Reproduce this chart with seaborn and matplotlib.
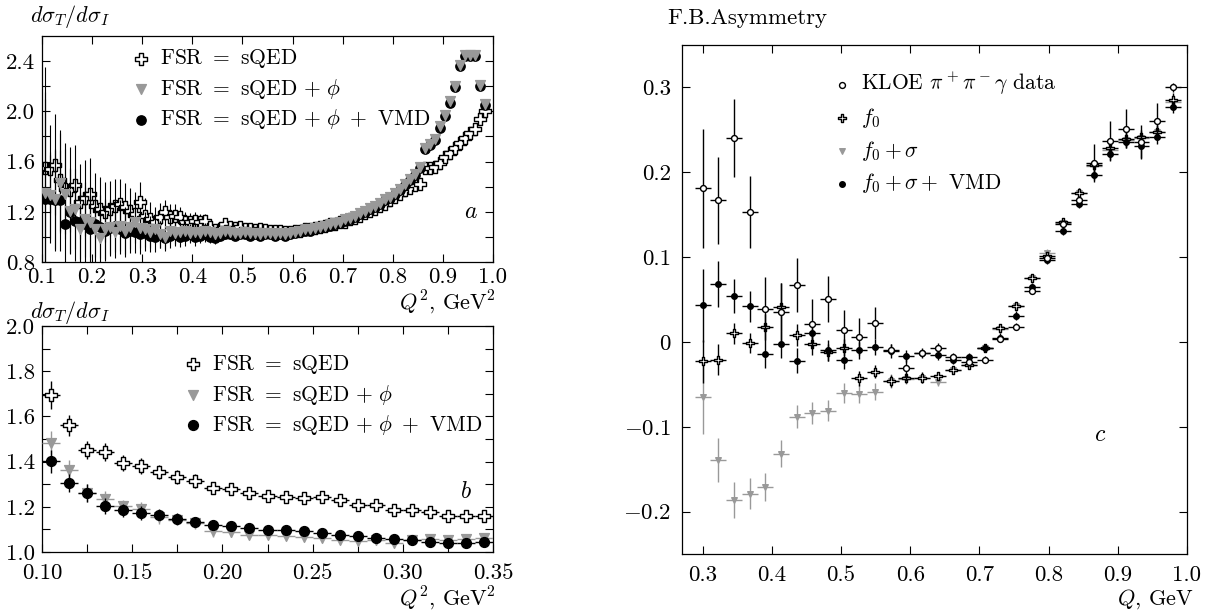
import numpy as np
import pandas as pd
import matplotlib
matplotlib.use("Agg")
import matplotlib.pyplot as plt
import seaborn as sns
from matplotlib.path import Path
from matplotlib.ticker import FixedLocator, FixedFormatter

# ---------------- panel a : dsigma_T/dsigma_I vs Q^2 (full range) ----------------
q2_a = [0.105, 0.115, 0.125, 0.135, 0.145, 0.155, 0.165, 0.175, 0.185, 0.195,
        0.205, 0.215, 0.225, 0.235, 0.245, 0.255, 0.265, 0.275, 0.285, 0.295,
        0.305, 0.315, 0.325, 0.335, 0.345, 0.355, 0.365, 0.375, 0.385, 0.395,
        0.405, 0.415, 0.425, 0.435, 0.445, 0.455, 0.465, 0.475, 0.485, 0.495,
        0.505, 0.515, 0.525, 0.535, 0.545, 0.555, 0.565, 0.575, 0.585, 0.595,
        0.605, 0.615, 0.625, 0.635, 0.645, 0.655, 0.665, 0.675, 0.685, 0.695,
        0.705, 0.715, 0.725, 0.735, 0.745, 0.755, 0.765, 0.775, 0.785, 0.795,
        0.805, 0.815, 0.825, 0.835, 0.845, 0.855, 0.865, 0.875, 0.885, 0.895,
        0.905, 0.915, 0.925, 0.935, 0.945, 0.955, 0.965, 0.975, 0.985]

a_sqed = [1.55, 1.54, 1.575, 1.45, 1.385, 1.375, 1.415, 1.28, 1.31, 1.345,
          1.25, 1.225, 1.20, 1.225, 1.25, 1.265, 1.24, 1.21, 1.185, 1.28,
          1.17, 1.145, 1.12, 1.16, 1.195, 1.16, 1.17, 1.155, 1.12, 1.12,
          1.13, 1.12, 1.125, 1.08, 1.055, 1.065, 1.10, 1.08, 1.07, 1.075,
          1.06, 1.065, 1.055, 1.06, 1.055, 1.05, 1.05, 1.045, 1.04, 1.04,
          1.045, 1.05, 1.06, 1.065, 1.07, 1.08, 1.09, 1.10, 1.105, 1.115,
          1.12, 1.14, 1.15, 1.165, 1.19, 1.21, 1.22, 1.245, 1.265, 1.29,
          1.315, 1.34, 1.37, 1.39, 1.415, 1.425, 1.545, 1.55, 1.56, 1.585,
          1.635, 1.67, 1.71, 1.75, 1.79, 1.83, 1.86, 1.94, 2.00]

a_phi = [1.35, 1.33, 1.30, 1.43, 1.34, 1.21, 1.22, 1.06, 1.14, 1.12,
         1.06, 0.99, 1.06, 1.08, 1.04, 1.09, 1.05, 1.08, 1.12, 1.07,
         1.06, 1.04, 1.06, 1.02, 1.00, 1.05, 1.03, 1.04, 1.05, 1.03,
         1.04, 1.03, 1.05, 1.04, 1.02, 1.03, 1.05, 1.04, 1.03, 1.03,
         1.04, 1.03, 1.03, 1.02, 1.03, 1.03, 1.02, 1.03, 1.02, 1.03,
         1.04, 1.05, 1.06, 1.06, 1.07, 1.08, 1.09, 1.10, 1.11, 1.12,
         1.14, 1.15, 1.17, 1.19, 1.21, 1.23, 1.25, 1.27, 1.30, 1.32,
         1.35, 1.38, 1.42, 1.46, 1.50, 1.56, 1.71, 1.74, 1.78, 1.88,
         1.97, 2.08, 2.20, 2.37, 2.45, 2.45, 2.45, 2.21, 2.06]

a_vmd = [1.30, 1.30, 1.29, 1.29, 1.10, 1.20, 1.13, 1.12, 1.10, 1.06,
         1.10, 1.08, 1.05, 1.07, 1.09, 1.06, 1.03, 1.05, 1.04, 1.02,
         1.03, 1.01, 1.00, 1.02, 0.99, 1.01, 1.02, 1.00, 1.01, 1.02,
         1.00, 1.01, 1.02, 1.00, 0.99, 1.01, 1.02, 1.02, 1.01, 1.02,
         1.02, 1.01, 1.02, 1.01, 1.02, 1.02, 1.01, 1.02, 1.01, 1.02,
         1.03, 1.04, 1.05, 1.05, 1.06, 1.07, 1.08, 1.09, 1.10, 1.11,
         1.13, 1.14, 1.16, 1.18, 1.20, 1.22, 1.24, 1.26, 1.29, 1.31,
         1.34, 1.37, 1.41, 1.45, 1.49, 1.55, 1.70, 1.73, 1.77, 1.87,
         1.96, 2.07, 2.19, 2.36, 2.44, 2.44, 2.44, 2.20, 2.05]

err_a = [0.80, 0.35, 0.40, 0.40, 0.36, 0.34, 0.32, 0.30, 0.30, 0.28,
         0.26, 0.25, 0.24, 0.22, 0.21, 0.20, 0.19, 0.18, 0.17, 0.16,
         0.14, 0.13, 0.12, 0.11, 0.10, 0.10, 0.09, 0.08, 0.08, 0.07,
         0.07, 0.06, 0.06, 0.05, 0.05, 0.04, 0.04, 0.04, 0.03, 0.03,
         0.03, 0.03, 0.025, 0.025, 0.025, 0.02, 0.02, 0.02, 0.02, 0.02,
         0.02, 0.02, 0.02, 0.02, 0.02, 0.02, 0.02, 0.02, 0.02, 0.02,
         0.02, 0.02, 0.02, 0.02, 0.02, 0.02, 0.02, 0.02, 0.02, 0.02,
         0.02, 0.02, 0.02, 0.02, 0.02, 0.02, 0.02, 0.02, 0.02, 0.02,
         0.02, 0.02, 0.02, 0.025, 0.025, 0.025, 0.025, 0.025, 0.025]

# ---------------- panel b : zoom on low Q^2 ----------------
q2_b = [0.105, 0.115, 0.125, 0.135, 0.145, 0.155, 0.165, 0.175, 0.185, 0.195,
        0.205, 0.215, 0.225, 0.235, 0.245, 0.255, 0.265, 0.275, 0.285, 0.295,
        0.305, 0.315, 0.325, 0.335, 0.345]

b_sqed = [1.695, 1.560, 1.452, 1.442, 1.393, 1.381, 1.353, 1.331, 1.315, 1.283,
          1.280, 1.261, 1.247, 1.243, 1.239, 1.242, 1.231, 1.206, 1.206, 1.187,
          1.184, 1.177, 1.161, 1.161, 1.158]
b_phi = [1.482, 1.364, 1.261, 1.236, 1.202, 1.190, 1.155, 1.143, 1.128, 1.091,
         1.088, 1.077, 1.077, 1.072, 1.066, 1.062, 1.054, 1.047, 1.054, 1.040,
         1.054, 1.057, 1.054, 1.057, 1.062]
b_vmd = [1.401, 1.305, 1.261, 1.205, 1.184, 1.172, 1.165, 1.147, 1.131, 1.121,
         1.116, 1.105, 1.099, 1.099, 1.091, 1.084, 1.077, 1.069, 1.060, 1.057,
         1.051, 1.043, 1.040, 1.040, 1.043]

err_b_sqed = [0.062, 0.045, 0.040, 0.040, 0.035, 0.035, 0.030, 0.030, 0.030, 0.025,
              0.025, 0.020, 0.020, 0.020, 0.020, 0.020, 0.020, 0.015, 0.015, 0.015,
              0.015, 0.015, 0.012, 0.012, 0.012]
err_b_phi = [0.055, 0.045, 0.040, 0.035, 0.030, 0.030, 0.030, 0.025, 0.025, 0.025,
             0.020, 0.020, 0.020, 0.020, 0.018, 0.018, 0.018, 0.015, 0.015, 0.015,
             0.015, 0.012, 0.012, 0.012, 0.012]
err_b_vmd = [0.050, 0.040, 0.040, 0.035, 0.030, 0.030, 0.025, 0.025, 0.020, 0.020,
             0.020, 0.018, 0.018, 0.015, 0.015, 0.015, 0.015, 0.012, 0.012, 0.012,
             0.012, 0.010, 0.010, 0.010, 0.010]

# ---------------- panel c : forward-backward asymmetry vs Q ----------------
q_c = [0.300, 0.322, 0.345, 0.368, 0.390, 0.413, 0.436, 0.458, 0.481, 0.504,
       0.526, 0.549, 0.572, 0.594, 0.617, 0.640, 0.662, 0.685, 0.708, 0.730,
       0.753, 0.776, 0.798, 0.821, 0.844, 0.866, 0.889, 0.912, 0.934, 0.957,
       0.980]

c_kloe = [0.181, 0.167, 0.240, 0.153, 0.039, 0.035, 0.067, 0.021, 0.051, 0.014,
          0.006, 0.022, -0.009, -0.031, -0.013, -0.007, -0.018, -0.024, -0.021, 0.004,
          0.018, 0.060, 0.099, 0.139, 0.167, 0.211, 0.237, 0.251, 0.236, 0.261,
          0.300]
c_f0 = [-0.023, -0.021, 0.010, -0.001, 0.018, 0.041, 0.008, -0.003, -0.012, -0.007,
        -0.043, -0.035, -0.046, -0.043, -0.042, -0.040, -0.033, -0.027, -0.007, 0.016,
        0.042, 0.075, 0.101, 0.141, 0.176, 0.208, 0.228, 0.239, 0.242, 0.248,
        0.285]
c_f0s = [-0.065, -0.139, -0.186, -0.179, -0.171, -0.132, -0.088, -0.084, -0.081, -0.060,
         -0.061, -0.059, -0.046, -0.044, -0.043, -0.047, -0.033, -0.027, -0.007, 0.015,
         0.042, 0.075, 0.105, 0.140, 0.176, 0.207, 0.226, 0.238, 0.240, 0.248,
         0.283]
c_vmd = [0.043, 0.068, 0.054, 0.042, -0.014, -0.003, -0.022, 0.010, -0.010, -0.021,
         -0.010, -0.006, -0.011, -0.017, -0.013, -0.015, -0.021, -0.018, -0.007, 0.005,
         0.031, 0.065, 0.097, 0.131, 0.163, 0.197, 0.221, 0.236, 0.231, 0.241,
         0.277]

err_c_kloe = [0.070, 0.051, 0.046, 0.042, 0.037, 0.034, 0.032, 0.029, 0.027, 0.024,
              0.022, 0.019, 0.006, 0.015, 0.005, 0.006, 0.005, 0.004, 0.004, 0.004,
              0.004, 0.004, 0.004, 0.005, 0.005, 0.022, 0.023, 0.023, 0.020, 0.021,
              0.005]
err_c_f0 = [0.025, 0.018, 0.012, 0.012, 0.015, 0.028, 0.013, 0.012, 0.010, 0.010,
            0.009, 0.008, 0.007, 0.006, 0.006, 0.005, 0.005, 0.005, 0.004, 0.004,
            0.004, 0.004, 0.004, 0.005, 0.005, 0.006, 0.008, 0.008, 0.008, 0.008,
            0.008]
err_c_f0s = [0.043, 0.026, 0.021, 0.018, 0.016, 0.016, 0.014, 0.013, 0.012, 0.012,
             0.011, 0.010, 0.008, 0.006, 0.005, 0.005, 0.005, 0.004, 0.004, 0.004,
             0.004, 0.004, 0.004, 0.005, 0.005, 0.006, 0.008, 0.008, 0.008, 0.008,
             0.008]
err_c_vmd = [0.043, 0.027, 0.020, 0.018, 0.017, 0.016, 0.015, 0.013, 0.012, 0.011,
             0.010, 0.009, 0.008, 0.007, 0.006, 0.006, 0.005, 0.005, 0.005, 0.005,
             0.005, 0.005, 0.005, 0.005, 0.005, 0.006, 0.008, 0.008, 0.014, 0.008,
             0.007]

half_bin_b = 0.005
half_bin_c = 0.0113

# --------------------------------------------------------------------------
sns.set_theme(style="ticks", rc={"axes.edgecolor": "black", "xtick.color": "black",
                                 "ytick.color": "black", "text.color": "black"})
plt.rcParams.update({
    "font.family": "serif",
    "font.serif": ["cmr10", "DejaVu Serif"],
    "mathtext.fontset": "cm",
    "axes.formatter.use_mathtext": True,
})

# open greek cross used for the sQED / f0 points
a_ = 0.17
cross = Path([(-a_, 0.5), (a_, 0.5), (a_, a_), (0.5, a_), (0.5, -a_), (a_, -a_),
              (a_, -0.5), (-a_, -0.5), (-a_, -a_), (-0.5, -a_), (-0.5, a_),
              (-a_, a_), (-a_, 0.5)], closed=True)

GRAY = "#999999"
TICK_FS = 16.5
LEG_FS = 15.5
LAB_FS = 16


def draw(ax, x, y, yerr, xerr, marker, face, edge, size, ecolor, label, z, lw=1.0):
    ax.errorbar(x, y, yerr=yerr, xerr=xerr, fmt="none", ecolor=ecolor,
                elinewidth=lw, capsize=0, zorder=z)
    df = pd.DataFrame({"x": x, "y": y})
    sns.scatterplot(data=df, x="x", y="y", marker=marker, s=size, color=face,
                    edgecolor=edge, linewidth=1.0, ax=ax, label=label, zorder=z + 0.5)


def style(ax, xlim, ylim, xt, xl, yt, yl, xpad=8):
    ax.set_xlim(*xlim)
    ax.set_ylim(*ylim)
    ax.xaxis.set_major_locator(FixedLocator(xt))
    ax.xaxis.set_major_formatter(FixedFormatter(xl))
    ax.yaxis.set_major_locator(FixedLocator(yt))
    ax.yaxis.set_major_formatter(FixedFormatter(yl))
    ax.tick_params(direction="in", top=True, right=True, length=6, width=0.8,
                   labelsize=TICK_FS)
    ax.tick_params(axis="x", pad=xpad)
    ax.tick_params(axis="y", pad=5)
    ax.set_xlabel("")
    ax.set_ylabel("")
    for s in ax.spines.values():
        s.set_linewidth(0.9)
        s.set_visible(True)


def legend(ax, order, anchor, spacing):
    h, l = ax.get_legend_handles_labels()
    d = dict(zip(l, h))
    ax.legend([d[k] for k in order], order, loc="upper left", bbox_to_anchor=anchor,
              frameon=False, fontsize=LEG_FS, handlelength=0.8, handletextpad=0.5,
              labelspacing=spacing, borderpad=0, borderaxespad=0)


W, H = 1215, 612
fig = plt.figure(figsize=(W / 100, H / 100), dpi=100)
ax_a = fig.add_axes([42 / W, 1 - 262 / H, 451 / W, 226 / H])
ax_b = fig.add_axes([42 / W, 1 - 552 / H, 451 / W, 226 / H])
ax_c = fig.add_axes([682 / W, 1 - 554 / H, 505 / W, 509 / H])

lab_sqed = r"FSR $=$ sQED"
lab_phi = r"FSR $=$ sQED $+\ \phi$"
lab_vmd = r"FSR $=$ sQED $+\ \phi\ +$ VMD"

# panel a
draw(ax_a, q2_a, a_sqed, err_a, None, cross, "white", "black", 70, "black", lab_sqed, 2, 0.8)
draw(ax_a, q2_a, a_vmd, err_a, None, "o", "black", "black", 45, "black", lab_vmd, 3, 0.8)
draw(ax_a, q2_a, a_phi, err_a, None, "v", GRAY, GRAY, 50, "black", lab_phi, 4, 0.8)
style(ax_a, (0.1, 1.0), (0.8, 2.6),
      [0.1, 0.2, 0.3, 0.4, 0.5, 0.6, 0.7, 0.8, 0.9, 1.0],
      ["0.1", "0.2", "0.3", "0.4", "0.5", "0.6", "0.7", "0.8", "0.9", "1.0"],
      [0.8, 1.0, 1.2, 1.4, 1.6, 1.8, 2.0, 2.2, 2.4],
      ["0.8", "", "1.2", "", "1.6", "", "2.0", "", "2.4"], xpad=4)
legend(ax_a, [lab_sqed, lab_phi, lab_vmd], (0.2, 0.95), 0.3)
ax_a.text(0.955, 1.2, r"$a$", fontsize=17, ha="center", va="center")

# panel b
draw(ax_b, q2_b, b_sqed, err_b_sqed, half_bin_b, cross, "white", "black", 70, "black", lab_sqed, 2)
draw(ax_b, q2_b, b_phi, err_b_phi, half_bin_b, "v", GRAY, GRAY, 50, GRAY, lab_phi, 3)
draw(ax_b, q2_b, b_vmd, err_b_vmd, half_bin_b, "o", "black", "black", 50, "black", lab_vmd, 4)
style(ax_b, (0.10, 0.35), (1.0, 2.0),
      [0.10, 0.125, 0.15, 0.175, 0.20, 0.225, 0.25, 0.275, 0.30, 0.325, 0.35],
      ["0.10", "", "0.15", "", "0.20", "", "0.25", "", "0.30", "", "0.35"],
      [1.0, 1.1, 1.2, 1.3, 1.4, 1.5, 1.6, 1.7, 1.8, 1.9, 2.0],
      ["1.0", "", "1.2", "", "1.4", "", "1.6", "", "1.8", "", "2.0"])
legend(ax_b, [lab_sqed, lab_phi, lab_vmd], (0.315, 0.88), 0.3)
ax_b.text(0.335, 1.265, r"$b$", fontsize=17, ha="center", va="center")

# panel c
lab_kloe = r"KLOE $\pi^+\pi^-\gamma$ data"
lab_f0 = r"$f_0$"
lab_f0s = r"$f_0+\sigma$"
lab_f0v = r"$f_0+\sigma+$ VMD"
draw(ax_c, q_c, c_f0s, err_c_f0s, half_bin_c, "v", GRAY, GRAY, 16, GRAY, lab_f0s, 2)
draw(ax_c, q_c, c_f0, err_c_f0, half_bin_c, cross, "white", "black", 30, "black", lab_f0, 3)
draw(ax_c, q_c, c_vmd, err_c_vmd, half_bin_c, "o", "black", "black", 16, "black", lab_f0v, 4)
draw(ax_c, q_c, c_kloe, err_c_kloe, half_bin_c, "o", "white", "black", 18, "black", lab_kloe, 5)
style(ax_c, (0.27, 1.0), (-0.25, 0.35),
      [0.3, 0.4, 0.5, 0.6, 0.7, 0.8, 0.9, 1.0],
      ["0.3", "0.4", "0.5", "0.6", "0.7", "0.8", "0.9", "1.0"],
      [-0.2, -0.1, 0.0, 0.1, 0.2, 0.3],
      [r"$-0.2$", r"$-0.1$", "0", "0.1", "0.2", "0.3"])
ax_c.tick_params(axis="y", pad=8)
legend(ax_c, [lab_kloe, lab_f0, lab_f0s, lab_f0v], (0.3, 0.95), 0.4)
ax_c.text(0.875, -0.11, r"$c$", fontsize=17, ha="center", va="center")

# axis titles placed like the original figure
fig.text(30 / W, 1 - 17 / H, r"$d\sigma_T/d\sigma_I$", fontsize=LAB_FS, ha="left", va="center")
fig.text(30 / W, 1 - 312 / H, r"$d\sigma_T/d\sigma_I$", fontsize=LAB_FS, ha="left", va="center")
fig.text(496 / W, 1 - 309 / H, r"$Q^2$, GeV$^2$", fontsize=LAB_FS, ha="right", va="baseline")
fig.text(496 / W, 1 - 605 / H, r"$Q^2$, GeV$^2$", fontsize=LAB_FS, ha="right", va="baseline")
fig.text(667 / W, 1 - 18 / H, "F.B.Asymmetry", fontsize=16.5, ha="left", va="center")
fig.text(1194 / W, 1 - 605 / H, r"$Q$, GeV", fontsize=LAB_FS, ha="right", va="baseline")

fig.savefig("out.png", dpi=100)
